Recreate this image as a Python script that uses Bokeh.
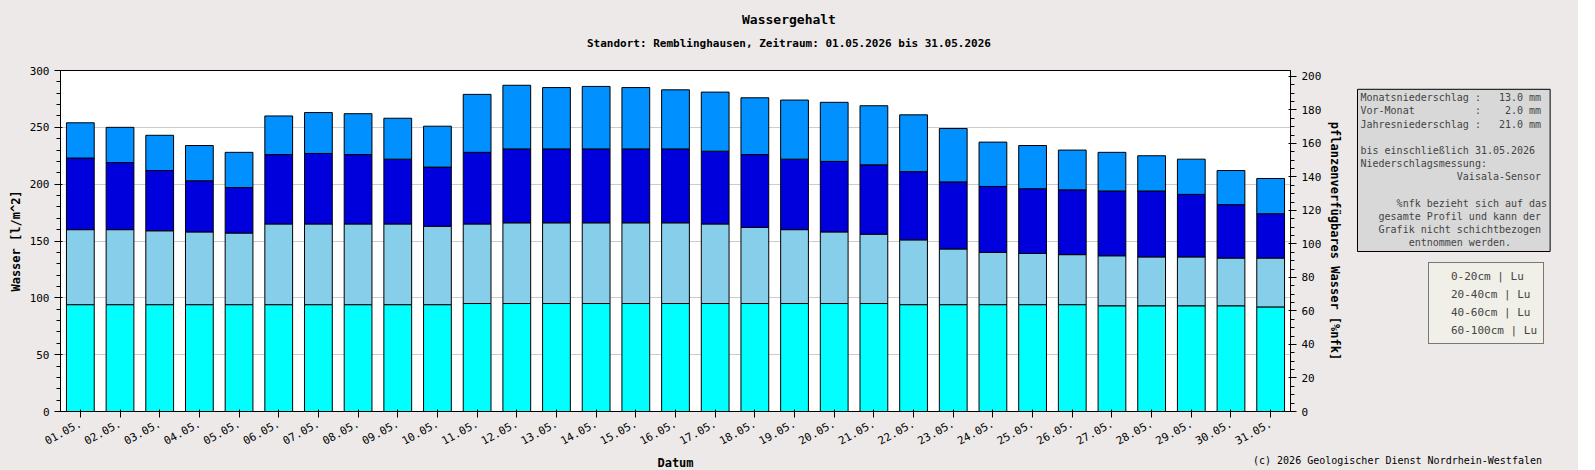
from bokeh.plotting import figure
from bokeh.models import Range1d, LinearAxis, FixedTicker, Legend, LegendItem, Label, ColumnDataSource, Div
from bokeh.layouts import column, row
from bokeh.embed import file_html
from bokeh.resources import INLINE

days = [f"{i:02d}.05." for i in range(1, 32)]
top_total = [254,250,243,234,228,260,263,262,258,251,279,287,285,286,285,283,281,276,274,272,269,261,249,237,234,230,228,225,222,212,205]
top_2040 = [223,219,212,203,197,226,227,226,222,215,228,231,231,231,231,231,229,226,222,220,217,211,202,198,196,195,194,194,191,182,174]
top_4060 = [160,160,159,158,157,165,165,165,165,163,165,166,166,166,166,166,165,162,160,158,156,151,143,140,139,138,137,136,136,135,135]
top_60100 = [94,94,94,94,94,94,94,94,94,94,95,95,95,95,95,95,95,95,95,95,95,94,94,94,94,94,93,93,93,93,92]
labels = ["0-20cm | Lu", "20-40cm | Lu", "40-60cm | Lu", "60-100cm | Lu"]
colors = ["#0090FF", "#0000DD", "#87CEEB", "#00FFFF"]

x = list(range(1, 32))
F = "DejaVu Sans Mono"
BG = "#ECE9E8"
p = figure(width=1345, height=417, output_backend="svg", toolbar_location=None,
           x_range=Range1d(0.5, 31.5), y_range=Range1d(0, 300),
           min_border_left=60, min_border_right=45, min_border_top=15, min_border_bottom=50,
           background_fill_color="white", border_fill_color=BG, outline_line_color="black")
src = ColumnDataSource(dict(x=x, a=top_60100, b=top_4060, c=top_2040, d=top_total))
p.vbar(x="x", bottom=0, top="a", width=0.7, source=src, fill_color=colors[3], line_color="black")
p.vbar(x="x", bottom="a", top="b", width=0.7, source=src, fill_color=colors[2], line_color="black")
p.vbar(x="x", bottom="b", top="c", width=0.7, source=src, fill_color=colors[1], line_color="black")
p.vbar(x="x", bottom="c", top="d", width=0.7, source=src, fill_color=colors[0], line_color="black")

p.xaxis.ticker = FixedTicker(ticks=x)
p.xaxis.major_label_overrides = {i: d for i, d in zip(x, days)}
p.xaxis.major_label_orientation = 0.5
p.xaxis.axis_label = "Datum"
p.yaxis.axis_label = "Wasser [l/m^2]"
p.yaxis.ticker = FixedTicker(ticks=list(range(0, 301, 50)), minor_ticks=list(range(0, 301, 10)))
p.extra_y_ranges = {"r": Range1d(0, 203.5)}
ra = LinearAxis(y_range_name="r", ticker=FixedTicker(ticks=list(range(0, 201, 20)), minor_ticks=list(range(0, 201, 5))),
                axis_label="pflanzenverfügbares Wasser [%nfk]")
p.add_layout(ra, "right")
for ax in [p.xaxis[0], p.yaxis[0], ra]:
    ax.major_label_text_font = F
    ax.major_label_text_font_size = "11px"
    ax.major_label_text_color = "black"
    ax.axis_label_text_font = F
    ax.axis_label_text_font_size = "12px"
    ax.axis_label_text_font_style = "bold"
    ax.axis_label_text_color = "black"
    ax.axis_label_standoff = 4
p.xgrid.grid_line_color = None
p.ygrid.grid_line_color = "#CCCCCC"

side = figure(width=223, height=417, output_backend="svg", toolbar_location=None,
              x_range=Range1d(0, 223), y_range=Range1d(0, 417),
              min_border_left=0, min_border_right=0, min_border_top=0, min_border_bottom=0,
              background_fill_color=BG, border_fill_color=BG, outline_line_color=None)
side.axis.visible = False
side.grid.grid_line_color = None
rs = [side.scatter(x=[], y=[], marker="square", fill_color=c, line_color="black") for c in colors]
legend = Legend(items=[LegendItem(label=l, renderers=[r]) for l, r in zip(labels, rs)],
                location=(83, 67), label_text_font=F, label_text_font_size="11px", glyph_width=11, glyph_height=11,
                spacing=4, padding=6, label_height=14, border_line_color="black", background_fill_color="#F0F0E8")
side.add_layout(legend, "center")
info = ("Monatsniederschlag :   13.0 mm\nVor-Monat          :    2.0 mm\nJahresniederschlag :   21.0 mm\n\n"
        "bis einschließlich 31.05.2026\nNiederschlagsmessung:\n                Vaisala-Sensor\n\n"
        "      %nfk bezieht sich auf das\n   gesamte Profil und kann der\n   Grafik nicht schichtbezogen\n        entnommen werden.")
info = info.replace(" ", "\u00a0")
side.add_layout(Label(x=12, y=394, text=info, text_font=F, text_font_size="10px", text_baseline="top",
                      background_fill_color="#D8D8D8", border_line_color="black", padding=3), "center")

title = Div(text="<div style='font-family:DejaVu Sans Mono;text-align:center;width:1568px;color:black'>"
                 "<div style='font-size:13px;font-weight:bold;margin-top:6px'>Wassergehalt</div>"
                 "<div style='font-size:11px;font-weight:bold;margin-top:6px'>Standort: Remblinghausen, Zeitraum: 01.05.2026 bis 31.05.2026</div></div>",
            width=1568, height=45, styles={"background-color": BG})
foot = Div(text="<span style='font-family:DejaVu Sans Mono;font-size:10px;color:black'>(c) 2026 Geologischer Dienst Nordrhein-Westfalen</span>",
           width=300, height=14, styles={"margin-top": "-20px", "margin-left": "1253px"})
lay = column(title, row(p, side), foot, spacing=0, styles={"background-color": BG})
open("out.html", "w").write(file_html(lay, INLINE))
